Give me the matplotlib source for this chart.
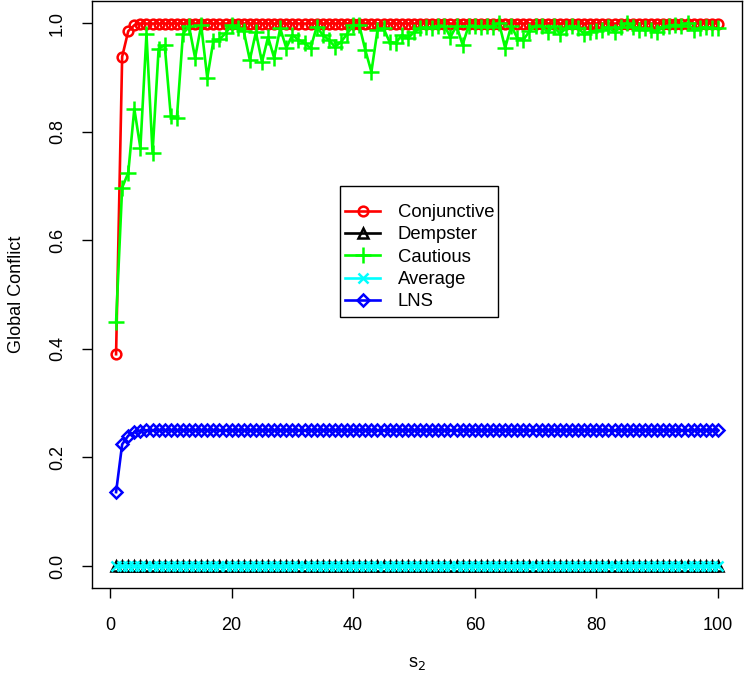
import numpy as np
import matplotlib
matplotlib.use("Agg")
import matplotlib.pyplot as plt
from matplotlib.patches import Rectangle

plt.rcParams['font.family'] = ['Liberation Sans', 'DejaVu Sans']

s2 = list(range(1, 101))

conjunctive = [0.39, 0.938, 0.985, 0.996] + [0.999] * 96
dempster = [0.0] * 100
average = [0.0] * 100
lns = [0.136, 0.224, 0.240, 0.246, 0.249] + [0.25] * 95

cautious = [
    0.449, 0.697, 0.724, 0.842, 0.770, 0.980, 0.761, 0.953, 0.959, 0.829,   # 1-10
    0.825, 0.980, 0.994, 0.936, 0.996, 0.899, 0.967, 0.970, 0.981, 0.996,   # 11-20
    0.990, 0.985, 0.932, 0.983, 0.928, 0.974, 0.936, 0.990, 0.954, 0.978,   # 21-30
    0.969, 0.963, 0.954, 0.993, 0.978, 0.969, 0.956, 0.965, 0.980, 0.996,   # 31-40
    0.996, 0.950, 0.910, 0.987, 0.990, 0.965, 0.963, 0.978, 0.972, 0.983,   # 41-50
    0.990, 0.992, 0.990, 0.995, 0.995, 0.974, 0.995, 0.960, 0.995, 0.995,   # 51-60
    0.993, 0.995, 0.993, 1.000, 0.954, 0.995, 0.972, 0.969, 0.985, 0.995,   # 61-70
    0.995, 0.983, 0.995, 0.980, 0.990, 0.995, 0.990, 0.980, 0.984, 0.986,   # 71-80
    0.987, 0.993, 0.983, 0.993, 1.000, 0.993, 0.987, 0.990, 0.987, 0.984,   # 81-90
    0.993, 0.995, 0.997, 0.995, 1.000, 0.987, 0.990, 0.993, 0.990, 0.990,   # 91-100
]

x_ticks = [0, 20, 40, 60, 80, 100]
y_ticks = [0.0, 0.2, 0.4, 0.6, 0.8, 1.0]

W, H = 747, 675
fig = plt.figure(figsize=(W / 100, H / 100), dpi=100)
ax_l, ax_r, ax_t, ax_b = 92, 742, 1.3, 587.7
ax = fig.add_axes([ax_l / W, (H - ax_b) / H, (ax_r - ax_l) / W, (ax_b - ax_t) / H])

lw = 1.9
ax.plot(s2, conjunctive, color='red', lw=lw, marker='o', ms=7, mfc='none', mew=1.8, label='Conjunctive')
ax.plot(s2, dempster, color='black', lw=lw, marker='^', ms=7, mfc='none', mew=1.8, label='Dempster')
ax.plot(s2, cautious, color='#00ff00', lw=lw, marker='+', ms=11, mew=1.8, label='Cautious')
ax.plot(s2, average, color='cyan', lw=lw, marker='x', ms=7.5, mew=1.8, label='Average')
ax.plot(s2, lns, color='blue', lw=lw, marker='D', ms=6, mfc='none', mew=1.8, label='LNS')

ax.set_xlim(-2.96, 103.96)
ax.set_ylim(-0.04, 1.04)
ax.set_xticks(x_ticks)
ax.set_xticklabels([str(v) for v in x_ticks])
ax.set_yticks(y_ticks)
ax.set_yticklabels([f"{v:.1f}" for v in y_ticks], rotation=90, va='center')
ax.tick_params(direction='out', length=7.2, width=1, labelsize=13)
ax.tick_params(axis='x', pad=14)
ax.tick_params(axis='y', pad=11.5)
for sp in ax.spines.values():
    sp.set_linewidth(1)
    sp.set_color('black')

ax.set_xlabel('s$_2$', fontsize=13, labelpad=15)
ax.set_ylabel('Global Conflict', fontsize=13, labelpad=17)

def ax_frac(px, py):
    return ((px - ax_l) / (ax_r - ax_l), (ax_b - py) / (ax_b - ax_t))

leg = ax.legend(loc='upper left', bbox_to_anchor=ax_frac(345, 204),
                fontsize=13.3, frameon=False,
                borderpad=0, labelspacing=0.29, handlelength=1.9, handletextpad=0.95,
                borderaxespad=0)
x0, y0 = ax_frac(340, 317)
x1, y1 = ax_frac(498, 186)
ax.add_patch(Rectangle((x0, y0), x1 - x0, y1 - y0, transform=ax.transAxes,
                       facecolor='white', edgecolor='black', lw=1, zorder=4))
leg.set_zorder(5)

fig.savefig('out.png', dpi=100)
